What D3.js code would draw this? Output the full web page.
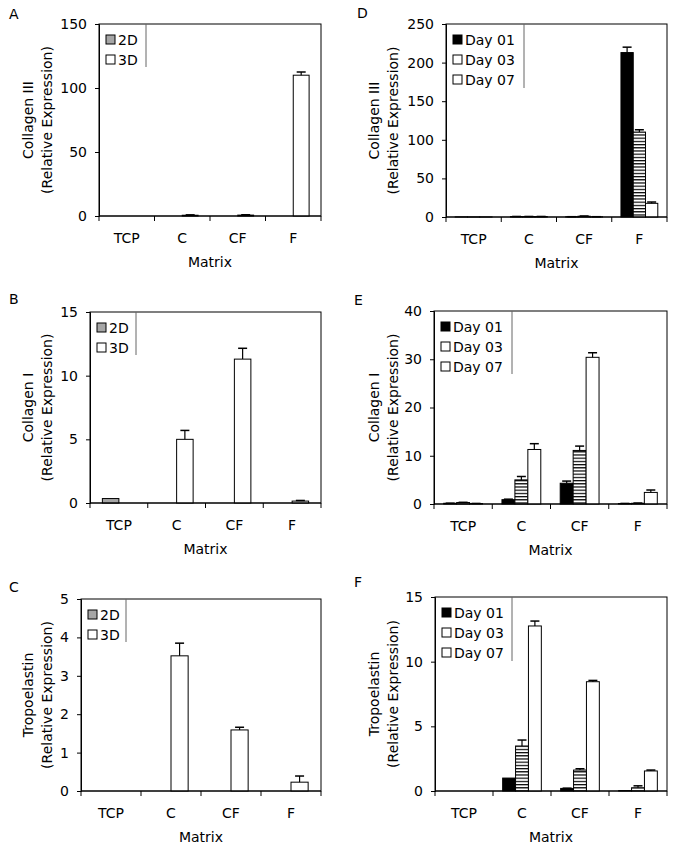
<!DOCTYPE html>
<html><head><meta charset="utf-8">
<script src="https://cdn.jsdelivr.net/npm/d3@7"></script>
<style>
html,body{margin:0;padding:0;background:#fff;}
svg{display:block;font-family:"DejaVu Sans",Verdana,sans-serif;}
</style></head>
<body><svg id="chart" width="673" height="846"></svg>
<script>
// ---------- data ----------
const categories = ["TCP", "C", "CF", "F"];
const dimSeries = ["2D", "3D"];
const daySeries = ["Day 01", "Day 03", "Day 07"];

// Panel A: Collagen III, 2D vs 3D
const colIII_2D = [0, 0, 0, 0];
const colIII_2D_err = [0, 0, 0, 0];
const colIII_3D = [0, 0.6, 0.7, 110];
const colIII_3D_err = [0, 0.3, 0.3, 2.5];
const ticksA = [0, 50, 100, 150];

// Panel B: Collagen I, 2D vs 3D
const colI_2D = [0.35, 0, 0, 0];
const colI_2D_err = [0, 0, 0, 0];
const colI_3D = [0, 5.0, 11.3, 0.15];
const colI_3D_err = [0, 0.7, 0.85, 0.05];
const ticksB = [0, 5, 10, 15];

// Panel C: Tropoelastin, 2D vs 3D
const tro_2D = [0, 0, 0, 0];
const tro_2D_err = [0, 0, 0, 0];
const tro_3D = [0, 3.52, 1.59, 0.23];
const tro_3D_err = [0, 0.33, 0.07, 0.16];
const ticksC = [0, 1, 2, 3, 4, 5];

// Panel D: Collagen III over days
const colIII_d01 = [0.1, 0.6, 0.3, 213];
const colIII_d01_err = [0, 0.1, 0.1, 7];
const colIII_d03 = [0.1, 0.6, 1.0, 110];
const colIII_d03_err = [0, 0.1, 0.3, 3];
const colIII_d07 = [0.1, 0.6, 0.3, 17.7];
const colIII_d07_err = [0, 0.1, 0.1, 1.7];
const ticksD = [0, 50, 100, 150, 200, 250];

// Panel E: Collagen I over days
const colI_d01 = [0.15, 0.9, 4.3, 0.1];
const colI_d01_err = [0.02, 0.1, 0.45, 0.02];
const colI_d03 = [0.3, 5.0, 11.1, 0.15];
const colI_d03_err = [0.05, 0.7, 0.9, 0.05];
const colI_d07 = [0.1, 11.3, 30.4, 2.4];
const colI_d07_err = [0.02, 1.2, 0.95, 0.5];
const ticksE = [0, 10, 20, 30, 40];

// Panel F: Tropoelastin over days
const tro_d01 = [0, 1.0, 0.2, 0.03];
const tro_d01_err = [0, 0, 0.02, 0];
const tro_d03 = [0, 3.48, 1.62, 0.25];
const tro_d03_err = [0, 0.46, 0.1, 0.15];
const tro_d07 = [0, 12.76, 8.45, 1.55];
const tro_d07_err = [0, 0.38, 0.1, 0.07];
const ticksF = [0, 5, 10, 15];

// ---------- panels ----------
const panels = [
  {letter:"A", title:"Collagen III", series:dimSeries, values:[colIII_2D, colIII_3D], errs:[colIII_2D_err, colIII_3D_err], ticks:ticksA,
   x0:99, x1:321, y0:24, y1:216, col:0, lx:9, ly:19, legX:146, legBottom:67},
  {letter:"B", title:"Collagen I", series:dimSeries, values:[colI_2D, colI_3D], errs:[colI_2D_err, colI_3D_err], ticks:ticksB,
   x0:90, x1:321, y0:312, y1:503, col:0, lx:9, ly:304, legX:136, legBottom:355},
  {letter:"C", title:"Tropoelastin", series:dimSeries, values:[tro_2D, tro_3D], errs:[tro_2D_err, tro_3D_err], ticks:ticksC,
   x0:81, x1:321, y0:599, y1:791, col:0, lx:9, ly:592, legX:126, legBottom:642},
  {letter:"D", title:"Collagen III", series:daySeries, values:[colIII_d01, colIII_d03, colIII_d07], errs:[colIII_d01_err, colIII_d03_err, colIII_d07_err], ticks:ticksD,
   x0:446, x1:667, y0:24, y1:217, col:1, lx:357, ly:18, legX:524, legBottom:88},
  {letter:"E", title:"Collagen I", series:daySeries, values:[colI_d01, colI_d03, colI_d07], errs:[colI_d01_err, colI_d03_err, colI_d07_err], ticks:ticksE,
   x0:434, x1:667, y0:311, y1:504, col:1, lx:354, ly:305, legX:512, legBottom:374},
  {letter:"F", title:"Tropoelastin", series:daySeries, values:[tro_d01, tro_d03, tro_d07], errs:[tro_d01_err, tro_d03_err, tro_d07_err], ticks:ticksF,
   x0:435, x1:667, y0:597, y1:791, col:1, lx:354, ly:587, legX:512, legBottom:661}
];

const fills = {"2D":"#a6a6a6", "3D":"#ffffff", "Day 01":"#000000", "Day 03":"url(#hstripe)", "Day 07":"#ffffff"};
const legendFills = {"2D":"#a6a6a6", "3D":"#ffffff", "Day 01":"#000000", "Day 03":"#ffffff", "Day 07":"#ffffff"};

const svg = d3.select("#chart");
const defs = svg.append("defs");
const pat = defs.append("pattern").attr("id","hstripe").attr("patternUnits","userSpaceOnUse")
  .attr("width",6).attr("height",3.2);
pat.append("rect").attr("width",6).attr("height",3.2).attr("fill","#fff");
pat.append("rect").attr("y",0).attr("width",6).attr("height",1.2).attr("fill","#000");

const FS = 14;
const FF = "DejaVu Sans, Verdana, sans-serif";

panels.forEach(p => {
  const g = svg.append("g").attr("font-family", FF);
  const x = d3.scaleBand().domain(categories).range([p.x0, p.x1]).paddingInner(0).paddingOuter(0);
  const y = d3.scaleLinear().domain([p.ticks[0], p.ticks[p.ticks.length-1]]).range([p.y1, p.y0]);
  const n = p.series.length;
  const bw = x.bandwidth() / (n + 1.5);
  const xs = d3.scaleBand().domain(p.series).range([0, n*bw]);
  const off = (x.bandwidth() - n*bw) / 2;

  // frame
  g.append("rect").attr("x", p.x0).attr("y", p.y0).attr("width", p.x1-p.x0).attr("height", p.y1-p.y0)
    .attr("fill","none").attr("stroke","#000").attr("stroke-width",1);

  // bars
  p.series.forEach((s, si) => {
    const data = categories.map((c, ci) => ({c, v:p.values[si][ci], e:p.errs[si][ci]}));
    const sg = g.append("g");
    sg.selectAll("rect").data(data.filter(d => d.v > 0)).join("rect")
      .attr("x", d => x(d.c) + off + xs(s))
      .attr("y", d => y(d.v))
      .attr("width", xs.bandwidth())
      .attr("height", d => y(0) - y(d.v))
      .attr("fill", fills[s]).attr("stroke","#000").attr("stroke-width",1);
    const eg = sg.selectAll("g.err").data(data.filter(d => d.e > 0)).join("g").attr("class","err");
    const cx = d => x(d.c) + off + xs(s) + xs.bandwidth()/2;
    eg.append("line").attr("x1", cx).attr("x2", cx).attr("y1", d => y(d.v)).attr("y2", d => y(d.v + d.e))
      .attr("stroke","#000").attr("stroke-width",1.2);
    eg.append("line").attr("x1", d => cx(d) - 4.5).attr("x2", d => cx(d) + 4.5)
      .attr("y1", d => y(d.v + d.e)).attr("y2", d => y(d.v + d.e))
      .attr("stroke","#000").attr("stroke-width",1.5);
  });

  // y axis
  const ya = g.append("g").attr("transform", `translate(${p.x0},0)`)
    .call(d3.axisLeft(y).tickValues(p.ticks).tickSize(4).tickPadding(8).tickFormat(d3.format("d")));
  ya.attr("font-family", FF).attr("font-size", FS);
  ya.select(".domain").attr("stroke","#000");
  ya.selectAll("text").attr("fill","#000");

  // x axis with ticks at category boundaries
  const xa = g.append("g").attr("transform", `translate(0,${p.y1})`);
  xa.append("line").attr("x1", p.x0).attr("x2", p.x1).attr("stroke","#000");
  const bounds = categories.map(c => x(c)).concat([p.x1]);
  xa.selectAll("line.tk").data(bounds).join("line").attr("class","tk")
    .attr("x1", d => d).attr("x2", d => d).attr("y1", 0).attr("y2", 5).attr("stroke","#000");
  xa.selectAll("text").data(categories).join("text")
    .attr("x", c => x(c) + x.bandwidth()/2).attr("y", 27).attr("text-anchor","middle")
    .attr("font-size", FS).text(c => c);
  xa.append("text").attr("x", (p.x0+p.x1)/2).attr("y", 51).attr("text-anchor","middle")
    .attr("font-size", FS).text("Matrix");

  // y title
  const tx = p.col === 0 ? 0 : 346;
  const cy = (p.y0 + p.y1) / 2;
  g.append("text").attr("transform", `translate(${tx+33},${cy}) rotate(-90)`).attr("text-anchor","middle")
    .attr("font-size", FS).text(p.title);
  g.append("text").attr("transform", `translate(${tx+52},${cy}) rotate(-90)`).attr("text-anchor","middle")
    .attr("font-size", FS).text("(Relative Expression)");

  // panel letter
  g.append("text").attr("x", p.lx).attr("y", p.ly).attr("font-size", 14).text(p.letter);

  // legend
  g.append("line").attr("x1", p.legX).attr("x2", p.legX).attr("y1", p.y0).attr("y2", p.legBottom)
    .attr("stroke","#666").attr("stroke-width",1);
  p.series.forEach((s, si) => {
    const ry = p.y0 + 16 + si*20;
    g.append("rect").attr("x", p.x0 + 7).attr("y", ry - 5).attr("width", 9).attr("height", 9)
      .attr("fill", legendFills[s]).attr("stroke","#000").attr("stroke-width",1);
    g.append("text").attr("x", p.x0 + 19).attr("y", ry + 5).attr("font-size", FS).text(s);
  });
});
</script>
</body></html>
